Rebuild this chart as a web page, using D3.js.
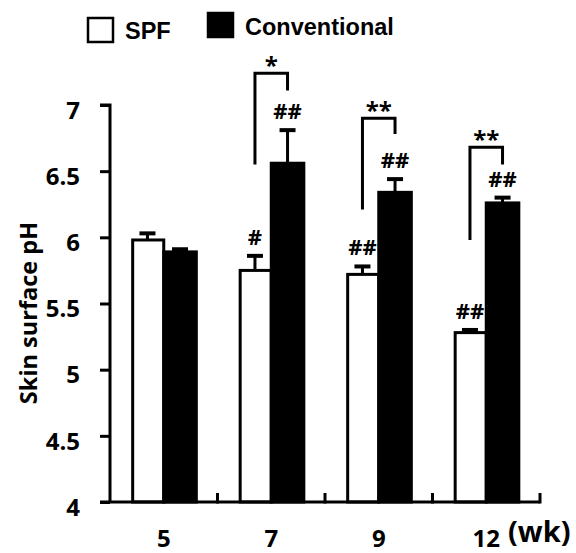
<!DOCTYPE html>
<html>
<head>
<meta charset="utf-8">
<script src="https://cdn.jsdelivr.net/npm/d3@7"></script>
<style>
  body { margin: 0; background: #fff; }
  svg { display: block; }
  .lbl { font-family: "Open Sans", Lato, sans-serif; font-weight: 700; }
</style>
</head>
<body>
<script>
// weeks and the two groups
const weeks = ["5", "7", "9", "12"];
const series = ["SPF", "Conventional"];

// mean skin surface pH and the SEM (top of error bar)
const spfMean = [5.98, 5.75, 5.72, 5.28];
const spfErr = [0.05, 0.11, 0.06, 0.02];
const convMean = [5.89, 6.56, 6.34, 6.26];
const convErr = [0.02, 0.25, 0.10, 0.04];

const yTicks = [4, 4.5, 5, 5.5, 6, 6.5, 7];

// significance marks
const spfHash = ["", "#", "##", "##"];
const convHash = ["", "##", "##", "##"];
const stars = ["", "*", "**", "**"];
// bracket levels in pH units: top bar, left leg end, right leg end
const bracketTop = [null, 7.24, 6.90, 6.68];
const bracketLeft = [null, 6.55, 6.21, 5.98];
const bracketRight = [null, 7.11, 6.78, 6.55];

let margin = {top: 105, right: 36, bottom: 51, left: 110};
let width = 576 - margin.left - margin.right;
let height = 553 - margin.top - margin.bottom;

let data = weeks.map((w, i) => ({
    week: w,
    values: [
        {key: "SPF", mean: spfMean[i], err: spfErr[i]},
        {key: "Conventional", mean: convMean[i], err: convErr[i]}
    ]
}));

let x0 = d3.scaleBand().domain(weeks).range([0, width]).padding(0);
let x1 = d3.scaleBand().domain(series).range([0, x0.bandwidth()])
    .paddingInner(0).paddingOuter(0.65);
let y = d3.scaleLinear().domain([4, 7]).range([height, 0]);
let fill = d3.scaleOrdinal().domain(series).range(["#fff", "#000"]);

let svg = d3.select("body").append("svg")
    .attr("width", 576)
    .attr("height", 553);

let g = svg.append("g")
    .attr("transform", `translate(${margin.left},${margin.top})`);

// bars
let groups = g.selectAll(".grp")
    .data(data)
    .enter().append("g")
    .attr("class", "grp")
    .attr("transform", d => `translate(${x0(d.week)},0)`);

groups.selectAll("rect")
    .data(d => d.values)
    .enter().append("rect")
    .attr("x", d => x1(d.key) + (d.key === "SPF" ? 1.5 : 0))
    .attr("y", d => y(d.mean))
    .attr("width", d => x1.bandwidth() - (d.key === "SPF" ? 1.5 : 0))
    .attr("height", d => height - y(d.mean))
    .attr("fill", d => fill(d.key))
    .attr("stroke", "#000")
    .attr("stroke-width", 3);

// error bars (upper only)
let eb = groups.selectAll(".err")
    .data(d => d.values)
    .enter().append("g")
    .attr("class", "err")
    .attr("transform", d => `translate(${x1(d.key) + x1.bandwidth() / 2},0)`);

eb.append("line")
    .attr("y1", d => y(d.mean))
    .attr("y2", d => y(d.mean + d.err))
    .attr("stroke", "#000")
    .attr("stroke-width", 3);

eb.append("line")
    .attr("x1", -8).attr("x2", 8)
    .attr("y1", d => y(d.mean + d.err))
    .attr("y2", d => y(d.mean + d.err))
    .attr("stroke", "#000")
    .attr("stroke-width", 4);

// y axis
let yAxis = g.append("g")
    .call(d3.axisLeft(y).tickValues(yTicks).tickSize(10).tickPadding(20)
        .tickFormat(d => d3.format("")(d)));
yAxis.select(".domain").attr("d", `M-10,0H0V${height}`).attr("stroke-width", 3);
yAxis.selectAll(".tick line").attr("stroke-width", 3);
yAxis.selectAll(".tick text")
    .attr("class", "lbl")
    .attr("font-size", 24)
    .attr("dy", "0.55em")
    .attr("fill", "#000");

// x axis: ticks between categories pointing up
let xAxis = g.append("g")
    .attr("transform", `translate(0,${height})`);
xAxis.append("line")
    .attr("x1", -10).attr("x2", width)
    .attr("stroke", "#000").attr("stroke-width", 3);
xAxis.selectAll(".sep")
    .data(weeks)
    .enter().append("line")
    .attr("x1", d => x0(d) + x0.bandwidth())
    .attr("x2", d => x0(d) + x0.bandwidth())
    .attr("y1", 1.5).attr("y2", -9)
    .attr("stroke", "#000").attr("stroke-width", 3);
xAxis.selectAll(".xl")
    .data(weeks)
    .enter().append("text")
    .attr("class", "lbl")
    .attr("x", d => x0(d) + x0.bandwidth() / 2)
    .attr("y", 45)
    .attr("text-anchor", "middle")
    .attr("font-size", 24)
    .text(d => d);
xAxis.append("text")
    .attr("class", "lbl")
    .attr("x", width - 32)
    .attr("y", 40)
    .attr("font-size", 29)
    .text("(wk)");

// y title
svg.append("text")
    .attr("class", "lbl")
    .attr("transform", `translate(37,${margin.top + 208}) rotate(-90)`)
    .attr("text-anchor", "middle")
    .attr("font-size", 23.5)
    .text("Skin surface pH");

// hash marks above error bars, brackets and stars
let cx = (w, k) => x0(w) + x1(k) + x1.bandwidth() / 2;
weeks.forEach((w, i) => {
    [["SPF", spfMean[i] + spfErr[i], spfHash[i]],
     ["Conventional", convMean[i] + convErr[i], convHash[i]]].forEach(([k, top, lab]) => {
        if (!lab) return;
        g.append("text")
            .attr("class", "lbl")
            .attr("x", cx(w, k))
            .attr("y", y(top) - 11)
            .attr("text-anchor", "middle")
            .attr("font-size", 22)
            .text(lab);
    });
    if (bracketTop[i] == null) return;
    let xl = cx(w, "SPF"), xr = cx(w, "Conventional");
    g.append("path")
        .attr("d", `M${xl},${y(bracketLeft[i])}V${y(bracketTop[i])}H${xr}V${y(bracketRight[i])}`)
        .attr("fill", "none")
        .attr("stroke", "#000")
        .attr("stroke-width", 3);
    g.append("text")
        .attr("class", "lbl")
        .attr("x", (xl + xr) / 2)
        .attr("y", y(bracketTop[i]) + 1)
        .attr("text-anchor", "middle")
        .attr("font-size", 24)
        .text(stars[i]);
});

// legend
let legend = svg.append("g");
let legendItems = [
    {key: "SPF", x: 88, y: 18, tx: 125, ty: 39},
    {key: "Conventional", x: 208, y: 13, tx: 245, ty: 35}
];
legend.selectAll("rect")
    .data(legendItems)
    .enter().append("rect")
    .attr("x", d => d.x).attr("y", d => d.y)
    .attr("width", 25).attr("height", 24)
    .attr("fill", d => fill(d.key))
    .attr("stroke", "#000")
    .attr("stroke-width", 2.5);
legend.selectAll("text")
    .data(legendItems)
    .enter().append("text")
    .attr("x", d => d.tx).attr("y", d => d.ty)
    .attr("font-family", "'Liberation Sans', Arial, sans-serif")
    .attr("font-weight", 700)
    .attr("font-size", 23.5)
    .text(d => d.key);
</script>
</body>
</html>
